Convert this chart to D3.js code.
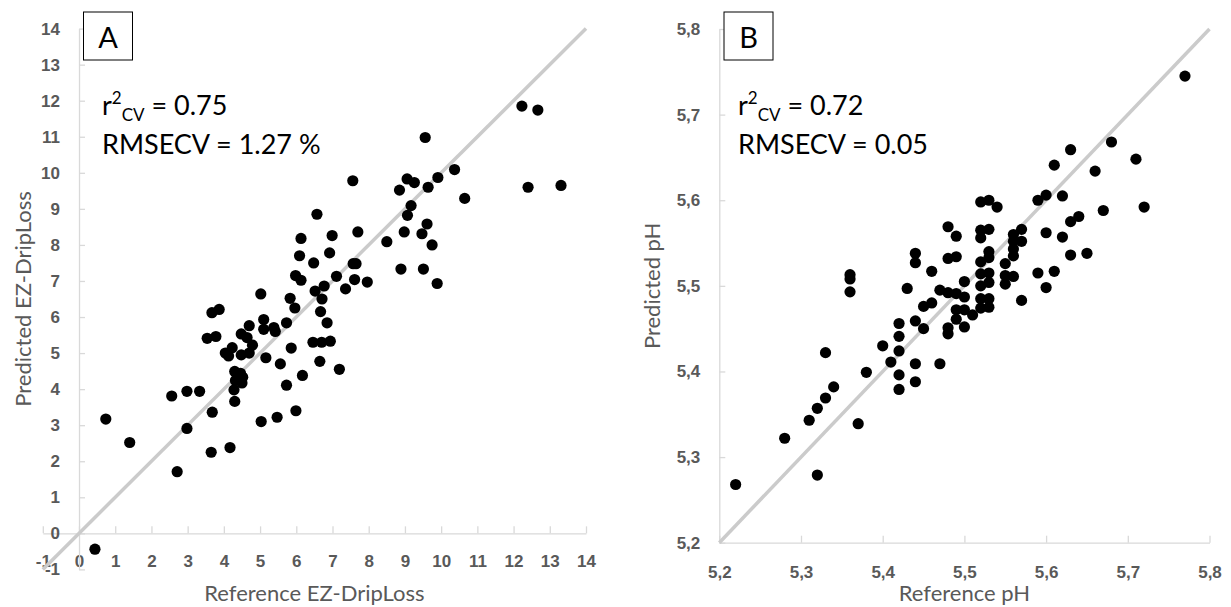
<!DOCTYPE html>
<html>
<head>
<meta charset="utf-8">
<script src="https://cdn.jsdelivr.net/npm/d3@7"></script>
<style>
    body { margin: 0; background: #fff; }
    svg { display: block; font-family: Lato, 'Open Sans', sans-serif; }
    .axis path, .axis line { stroke: #d9d9d9; stroke-width: 1.3; }
</style>
</head>
<body>
<svg id="chart" width="1231" height="607"></svg>
<script>
// panel A: EZ-DripLoss
var dripRef = [0.44, 0.74, 1.40, 2.71, 2.98, 2.56, 2.98, 3.33, 3.65, 3.68, 4.17, 4.30,
    3.54, 3.78, 3.67, 3.87, 4.04, 4.13, 4.23, 4.28, 4.32, 4.30, 4.46, 4.50, 4.52, 4.48, 4.48, 4.64, 4.70, 4.70,
    4.79, 5.02, 5.10, 5.10, 5.16, 5.03, 5.38, 5.42, 5.47, 5.56, 5.73, 5.73, 5.83, 5.86, 5.96, 5.99, 5.98, 6.09,
    6.13, 6.13, 6.17, 6.48, 6.57, 6.52, 6.46, 6.67, 6.71, 6.65, 6.70, 6.77, 6.85, 6.94, 6.92, 6.99, 7.11, 7.19,
    7.36, 7.56, 7.57, 7.65, 7.61, 7.70, 7.96, 8.50, 8.85, 8.89, 8.98, 9.06, 9.07, 9.17, 9.26, 9.47, 9.51, 9.56,
    9.61, 9.64, 9.75, 9.89, 9.91, 10.37, 10.65, 12.23, 12.40, 12.67, 13.31];
var dripPred = [-0.44, 3.17, 2.52, 1.71, 2.91, 3.81, 3.94, 3.94, 2.25, 3.36, 2.38, 3.66,
    5.41, 5.46, 6.12, 6.21, 5.00, 4.92, 5.15, 3.98, 4.24, 4.49, 4.44, 4.17, 4.33, 5.53, 4.95, 5.43, 5.00, 5.76,
    5.22, 6.64, 5.93, 5.66, 4.87, 3.10, 5.71, 5.60, 3.22, 4.70, 5.84, 4.11, 6.52, 5.14, 6.25, 3.40, 7.15, 7.70,
    8.18, 7.02, 4.38, 7.50, 8.85, 6.72, 5.30, 6.15, 6.50, 4.77, 5.30, 6.86, 5.84, 5.33, 7.78, 8.26, 7.13, 4.55,
    6.78, 9.78, 7.48, 7.48, 7.04, 8.36, 6.97, 8.09, 9.52, 7.33, 8.36, 9.83, 8.82, 9.09, 9.73, 8.31, 7.33, 10.98,
    8.58, 9.60, 8.00, 6.93, 9.87, 10.09, 9.29, 11.85, 9.60, 11.74, 9.65];
var dripTicks = [-1, 0, 1, 2, 3, 4, 5, 6, 7, 8, 9, 10, 11, 12, 13, 14];
var dripTickLabels = ['-1', '0', '1', '2', '3', '4', '5', '6', '7', '8', '9', '10', '11', '12', '13', '14'];

// panel B: pH
var phRef = [5.22, 5.28, 5.32, 5.31, 5.32, 5.33, 5.34, 5.33, 5.37, 5.38, 5.36, 5.36, 5.36, 5.40, 5.41, 5.42,
    5.42, 5.42, 5.42, 5.42, 5.43, 5.44, 5.44, 5.44, 5.44, 5.44, 5.45, 5.45, 5.46, 5.46, 5.47, 5.47, 5.48, 5.48,
    5.48, 5.48, 5.48, 5.49, 5.49, 5.49, 5.49, 5.49, 5.50, 5.50, 5.50, 5.50, 5.51, 5.52, 5.52, 5.52, 5.52, 5.52,
    5.52, 5.52, 5.52, 5.53, 5.53, 5.53, 5.53, 5.53, 5.53, 5.53, 5.53, 5.54, 5.55, 5.55, 5.55, 5.56, 5.56, 5.56,
    5.56, 5.56, 5.57, 5.57, 5.57, 5.59, 5.59, 5.60, 5.60, 5.60, 5.61, 5.61, 5.62, 5.62, 5.63, 5.63, 5.63, 5.64,
    5.65, 5.66, 5.67, 5.68, 5.71, 5.72, 5.77];
var phPred = [5.268, 5.322, 5.279, 5.343, 5.357, 5.369, 5.382, 5.422, 5.339, 5.399, 5.508, 5.513, 5.493, 5.430,
    5.411, 5.379, 5.396, 5.424, 5.441, 5.456, 5.497, 5.409, 5.388, 5.459, 5.527, 5.538, 5.450, 5.476, 5.480,
    5.517, 5.495, 5.409, 5.569, 5.532, 5.492, 5.451, 5.444, 5.558, 5.534, 5.491, 5.472, 5.461, 5.505, 5.487,
    5.472, 5.452, 5.466, 5.598, 5.565, 5.556, 5.528, 5.514, 5.500, 5.485, 5.474, 5.600, 5.566, 5.540, 5.533,
    5.515, 5.504, 5.485, 5.475, 5.592, 5.526, 5.512, 5.502, 5.560, 5.552, 5.543, 5.535, 5.511, 5.566, 5.552,
    5.483, 5.600, 5.515, 5.606, 5.562, 5.498, 5.641, 5.517, 5.605, 5.557, 5.659, 5.575, 5.536, 5.581, 5.538,
    5.634, 5.588, 5.668, 5.648, 5.592, 5.745];
var phTicks = [5.2, 5.3, 5.4, 5.5, 5.6, 5.7, 5.8];
var phTickLabels = ['5,2', '5,3', '5,4', '5,5', '5,6', '5,7', '5,8'];

var svg = d3.select('#chart');

function styleTicks(sel) {
    sel.selectAll('.tick text')
        .style('font-family', "'Liberation Sans', Arial, sans-serif")
        .style('font-weight', 'bold')
        .style('font-size', '17px')
        .style('fill', '#595959');
}

function scatterPanel(p) {
    var lo = p.ticks[0], hi = p.ticks[p.ticks.length - 1];
    var x = d3.scaleLinear().domain([lo, hi]).range(p.xRange);
    var y = d3.scaleLinear().domain([lo, hi]).range(p.yRange);
    var fmt = function (d) { return p.tickLabels[p.ticks.indexOf(d)]; };

    var g = svg.append('g');

    g.append('g')
        .attr('class', 'axis')
        .attr('transform', 'translate(0,' + y(p.crossY) + ')')
        .call(d3.axisBottom(x).tickValues(p.ticks).tickFormat(fmt).tickSizeInner(-7).tickSizeOuter(0).tickPadding(p.xPad))
        .call(styleTicks);

    g.append('g')
        .attr('class', 'axis')
        .attr('transform', 'translate(' + x(p.crossX) + ',0)')
        .call(d3.axisLeft(y).tickValues(p.ticks).tickFormat(fmt).tickSizeInner(-6).tickSizeOuter(0).tickPadding(19))
        .call(styleTicks);

    // 1:1 line
    g.append('line')
        .attr('x1', x(lo)).attr('y1', y(lo))
        .attr('x2', x(hi)).attr('y2', y(hi))
        .attr('stroke', '#cbcbcb')
        .attr('stroke-width', 3.5);

    g.append('g')
        .selectAll('circle')
        .data(p.ref.map(function (d, i) { return [d, p.pred[i]]; }))
        .join('circle')
        .attr('cx', d => x(d[0]))
        .attr('cy', d => y(d[1]))
        .attr('r', 5.6)
        .attr('fill', '#000');

    // panel letter
    g.append('rect')
        .attr('x', p.box[0]).attr('y', p.box[1])
        .attr('width', 49).attr('height', 48)
        .attr('fill', '#fff')
        .attr('stroke', '#000')
        .attr('stroke-width', 1);
    g.append('text')
        .attr('x', p.box[0] + 24.5)
        .attr('y', p.box[1] + 36)
        .attr('text-anchor', 'middle')
        .style('font-size', '29px')
        .text(p.letter);

    // statistics
    var stat = g.append('text')
        .attr('x', p.statX)
        .attr('y', 115)
        .style('font-size', '27px');
    stat.append('tspan').text('r');
    stat.append('tspan').attr('dy', -11).style('font-size', '17px').text('2');
    stat.append('tspan').attr('dy', 17).style('font-size', '17px').text('CV');
    stat.append('tspan').attr('dy', -6).text(' = ' + p.r2);
    g.append('text')
        .attr('x', p.statX)
        .attr('y', 154)
        .style('font-size', '27px')
        .text('RMSECV = ' + p.rmse);

    // axis titles
    g.append('text')
        .attr('transform', 'translate(' + p.yTitleX + ',' + (p.yRange[0] + p.yRange[1]) / 2 + ') rotate(-90)')
        .attr('text-anchor', 'middle')
        .attr('dominant-baseline', 'central')
        .style('font-size', '22px')
        .style('fill', '#595959')
        .text(p.yTitle);
    g.append('text')
        .attr('x', (p.xRange[0] + p.xRange[1]) / 2)
        .attr('y', 601)
        .attr('text-anchor', 'middle')
        .style('font-size', '22px')
        .style('fill', '#595959')
        .text(p.xTitle);
}

scatterPanel({
    ref: dripRef, pred: dripPred,
    ticks: dripTicks, tickLabels: dripTickLabels,
    crossX: 0, crossY: 0, xPad: 22,
    xRange: [42.8, 586], yRange: [569.4, 28.6],
    letter: 'A', box: [83.5, 12],
    statX: 102, r2: '0.75', rmse: '1.27 %',
    yTitleX: 22, yTitle: 'Predicted EZ-DripLoss',
    xTitle: 'Reference EZ-DripLoss'
});

scatterPanel({
    ref: phRef, pred: phPred,
    ticks: phTicks, tickLabels: phTickLabels,
    crossX: 5.2, crossY: 5.2, xPad: 23,
    xRange: [719.3, 1209.5], yRange: [542.7, 29],
    letter: 'B', box: [724, 12],
    statX: 738, r2: '0.72', rmse: '0.05',
    yTitleX: 651, yTitle: 'Predicted pH',
    xTitle: 'Reference pH'
});
</script>
</body>
</html>
